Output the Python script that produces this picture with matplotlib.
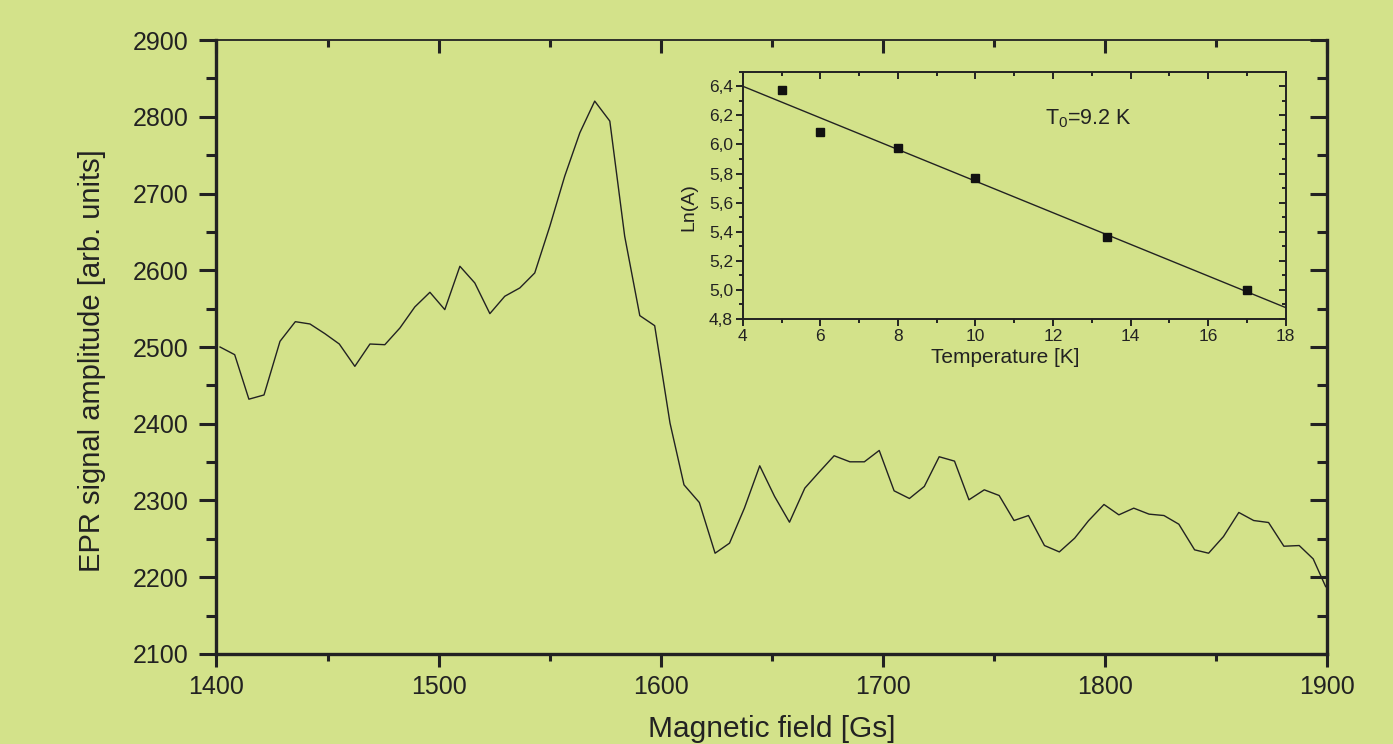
import matplotlib.pyplot as plt
from matplotlib.ticker import MultipleLocator, FuncFormatter

# main EPR curve
field = [1401.6, 1408.2, 1414.6, 1421.4, 1428.6, 1435.5, 1442.1, 1448.8, 1455.3, 1462.3,
         1469.1, 1475.8, 1482.6, 1489.3, 1496.1, 1502.8, 1509.6, 1516.3, 1523.1, 1529.8,
         1536.6, 1543.3, 1550.1, 1556.8, 1563.6, 1570.3, 1577.1, 1583.8, 1590.6, 1597.3,
         1604.2, 1610.5, 1617.4, 1624.5, 1631.0, 1637.7, 1644.6, 1651.3, 1658.0, 1664.9,
         1671.2, 1678.1, 1685.2, 1691.7, 1698.4, 1705.1, 1712.0, 1718.7, 1725.4, 1732.3,
         1738.8, 1745.7, 1752.4, 1759.1, 1765.6, 1772.8, 1779.5, 1786.4, 1792.6, 1799.6,
         1806.3, 1813.0, 1819.9, 1826.6, 1833.3, 1840.4, 1846.7, 1853.4, 1860.3, 1867.0,
         1873.7, 1880.6, 1887.5, 1893.8, 1899.4]
amplitude = [2500, 2490, 2432, 2437.5, 2507.4, 2533, 2530, 2517.4, 2503.9, 2474.8,
             2503.9, 2503, 2524.8, 2552.2, 2571.3, 2548.7, 2605.2, 2583.5, 2543.5, 2566.1,
             2577, 2596.5, 2657.4, 2722.6, 2779.1, 2820.4, 2794.4, 2644.3, 2540.9, 2527.8,
             2400.9, 2320.4, 2297.4, 2231.3, 2244.4, 2290, 2345.2, 2305.2, 2271.7, 2316.1,
             2336.5, 2358.3, 2350.4, 2350.4, 2365.2, 2312.6, 2302.6, 2318.3, 2357, 2351.3,
             2300.9, 2313.9, 2306.5, 2273.9, 2280.4, 2241.3, 2233, 2250.9, 2273.5, 2294.8,
             2281.3, 2290, 2282.2, 2280.4, 2269.1, 2235.7, 2231.3, 2253, 2284.4, 2273.9,
             2271.3, 2240.4, 2241.3, 2223.9, 2187.8]

# inset: ln(A) vs temperature
temp = [5, 6, 8, 10, 13.4, 17]
ln_a = [6.373, 6.089, 5.975, 5.767, 5.362, 4.999]
fit_intercept = 6.835
t0 = 9.2
fit_t = [4, 18]

bg = '#d3e28a'
ink = '#222222'
plt.rcParams['font.family'] = ['Liberation Sans', 'DejaVu Sans']
plt.rcParams['mathtext.fontset'] = 'custom'
plt.rcParams['mathtext.rm'] = 'Liberation Sans'

fig = plt.figure(figsize=(13.93, 7.44), dpi=100, facecolor=bg)
ax = fig.add_axes([0.1554, 0.1210, 0.7972, 0.8252])
ax.set_facecolor(bg)
ax.plot(field, amplitude, color=ink, lw=1.0)
ax.set_xlim(1400, 1900)
ax.set_ylim(2100, 2900)
ax.xaxis.set_major_locator(MultipleLocator(100))
ax.xaxis.set_minor_locator(MultipleLocator(50))
ax.yaxis.set_major_locator(MultipleLocator(100))
ax.yaxis.set_minor_locator(MultipleLocator(50))
for s in ['left', 'bottom', 'right']:
    ax.spines[s].set_linewidth(2.4)
    ax.spines[s].set_color(ink)
ax.spines['top'].set_linewidth(1.3)
ax.spines['top'].set_color(ink)
ax.tick_params(axis='y', which='major', direction='out', length=12, width=2.2,
               labelsize=18, colors=ink, pad=8, right=True)
ax.tick_params(axis='y', which='minor', direction='out', length=7, width=2.2,
               colors=ink, right=True)
ax.tick_params(axis='x', which='major', direction='out', length=9, width=2.2,
               labelsize=18, colors=ink, pad=6, top=True)
ax.tick_params(axis='x', which='minor', direction='out', length=5, width=2.2,
               colors=ink, top=True)
# right and top ticks point inward
for t in ax.yaxis.get_major_ticks() + ax.yaxis.get_minor_ticks():
    t.tick2line.set_marker(0)
for t in ax.xaxis.get_major_ticks() + ax.xaxis.get_minor_ticks():
    t.tick2line.set_marker(3)
ax.set_xlabel('Magnetic field [Gs]', fontsize=21.5, color=ink, labelpad=12)
ax.set_ylabel('EPR signal amplitude [arb. units]', fontsize=21, color=ink)
ax.yaxis.set_label_coords(-0.0995, 0.478)

# inset
ins = fig.add_axes([0.5332, 0.5712, 0.3898, 0.3324])
ins.set_facecolor(bg)
ins.plot(fit_t, [fit_intercept - t / t0 for t in fit_t], color=ink, lw=1.0)
ins.plot(temp, ln_a, ls='none', marker='s', ms=5.5, color='#111111')
ins.set_xlim(4, 18)
ins.set_ylim(4.8, 6.5)
ins.xaxis.set_major_locator(MultipleLocator(2))
ins.xaxis.set_minor_locator(MultipleLocator(1))
ins.yaxis.set_major_locator(MultipleLocator(0.2))
ins.yaxis.set_minor_locator(MultipleLocator(0.1))
ins.yaxis.set_major_formatter(FuncFormatter(lambda v, p: f'{v:.1f}'.replace('.', ',')))
for s in ins.spines.values():
    s.set_linewidth(1.4)
    s.set_color(ink)
ins.tick_params(which='major', direction='out', length=5, width=1.4, labelsize=12.5,
                colors=ink, pad=2, top=True, right=True)
ins.tick_params(which='minor', direction='out', length=3, width=1.4, colors=ink,
                top=True, right=True)
for t in ins.yaxis.get_major_ticks() + ins.yaxis.get_minor_ticks():
    t.tick2line.set_marker(0)
for t in ins.xaxis.get_major_ticks() + ins.xaxis.get_minor_ticks():
    t.tick2line.set_marker(3)
ins.set_xlabel('Temperature [K]', fontsize=15, color=ink)
ins.xaxis.set_label_coords(0.483, -0.118)
ins.set_ylabel('Ln(A)', fontsize=14, color=ink)
ins.yaxis.set_label_coords(-0.084, 0.453)
ins.text(11.8, 6.18, r'T$_\mathregular{0}$=9.2 K', fontsize=15.5, color=ink,
         ha='left', va='center')

fig.savefig('out.png', dpi=100, facecolor=bg)
